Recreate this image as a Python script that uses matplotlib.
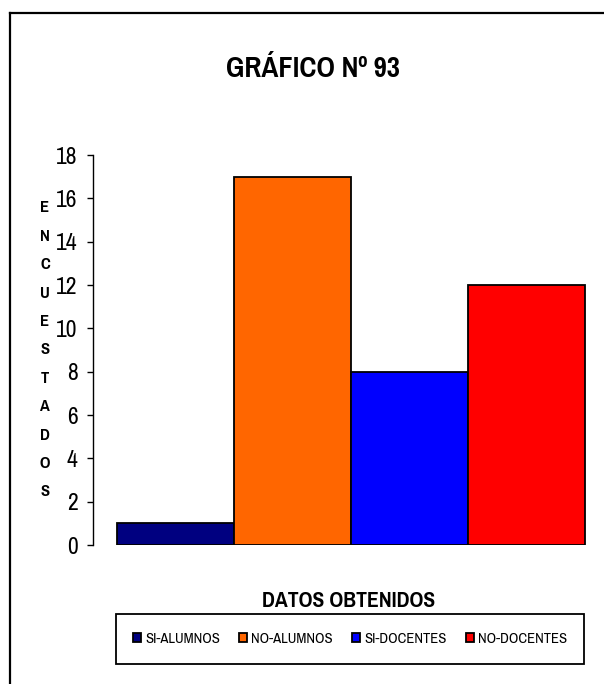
import matplotlib
matplotlib.use("Agg")
import matplotlib.pyplot as plt
from matplotlib.lines import Line2D

# ---- data ----
series = ["SI-ALUMNOS", "NO-ALUMNOS", "SI-DOCENTES", "NO-DOCENTES"]
values = [1, 17, 8, 12]
colors = ["#000080", "#FF6600", "#0000FF", "#FF0000"]
yticks = [0, 2, 4, 6, 8, 10, 12, 14, 16, 18]
title = "GRÁFICO Nº 93"
xlabel = "DATOS OBTENIDOS"
ylabel = "ENCUESTADOS"

FONT = ["Pragati Narrow", "PT Sans Narrow", "Liberation Sans", "DejaVu Sans"]
plt.rcParams["font.family"] = FONT

W, H = 604, 684
fig = plt.figure(figsize=(W / 100, H / 100), dpi=100)

# outer chart border (extends past right/bottom edge)
fig.add_artist(Line2D([10 / W, 10 / W], [0, 1 - 13 / H], transform=fig.transFigure,
                      color="black", lw=1.6))
fig.add_artist(Line2D([10 / W, 1], [1 - 13 / H, 1 - 13 / H], transform=fig.transFigure,
                      color="black", lw=1.6))

ax = fig.add_axes([93 / W, 1 - 545 / H, (W - 93) / W, 390 / H])
bars = []
for i, (s, v, c) in enumerate(zip(series, values, colors)):
    b = ax.bar(i, v, width=1.0, align="edge", color=c, edgecolor="black",
               linewidth=1.3, label=s)
    bars.append(b)

ax.set_ylim(0, 18)
ax.set_xlim(-24 / 117, 4 + 19 / 117)
ax.set_yticks(yticks)
ax.set_yticklabels([str(t) for t in yticks], fontsize=18.5)
ax.tick_params(axis="y", direction="out", length=4, width=1, pad=7)
ax.set_xticks([])
for sp in ["top", "right", "bottom"]:
    ax.spines[sp].set_visible(False)
ax.spines["left"].set_linewidth(1)

# title
fig.text(313 / W, 1 - 77 / H, title, ha="center", va="baseline",
         fontsize=22.5, fontweight="bold")

# vertical stacked y label
for k, ch in enumerate(ylabel):
    fig.text(45 / W, 1 - (208 + k * 28.4) / H, ch, ha="center", va="center",
             fontsize=13, fontweight="bold")

# x label
fig.text(349 / W, 1 - 607 / H, xlabel, ha="center", va="baseline",
         fontsize=17, fontweight="bold")

# legend
leg = fig.legend(handles=[b[0] for b in bars], labels=series, ncol=4,
                 loc="center",
                 bbox_to_anchor=(115 / W, 1 - 666 / H, 470 / W, 54 / H),
                 fontsize=11.5, frameon=True, fancybox=False, edgecolor="black",
                 framealpha=1, borderpad=1.1, handlelength=0.5, handleheight=0.55,
                 handletextpad=0.25, columnspacing=1.2, borderaxespad=0)
leg.get_frame().set_linewidth(1.3)

fig.savefig("out.png", dpi=100)
